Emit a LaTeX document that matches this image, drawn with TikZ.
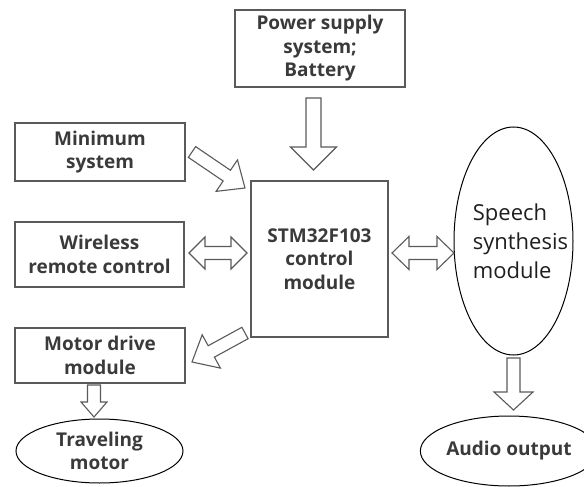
\documentclass[tikz,border=0pt]{standalone}
\usepackage{fontspec}
\setmainfont{Open Sans}
\usetikzlibrary{calc,shapes.geometric}
\definecolor{boxline}{HTML}{5A5A5A}
\definecolor{lbl}{HTML}{3A3A3A}
\newcommand{\blkarrow}[5]{% from, to, shaft half width, head half width, head length
  \path ($(#2)!#5!(#1)$) coordinate (ba-h);
  \draw[blockarrow] ($(#1)!#3!90:(#2)$) -- ($(ba-h)!#3!-90:(#1)$) -- ($(ba-h)!#4!-90:(#1)$) -- (#2)
    -- ($(ba-h)!#4!90:(#1)$) -- ($(ba-h)!#3!90:(#1)$) -- ($(#1)!#3!-90:(#2)$) -- cycle;
}
\newcommand{\dblarrow}[5]{% end A, end B, shaft half width, head half width, head length
  \path ($(#1)!#5!(#2)$) coordinate (da-a) ($(#2)!#5!(#1)$) coordinate (da-b);
  \draw[blockarrow] (#1) -- ($(da-a)!#4!90:(#2)$) -- ($(da-a)!#3!90:(#2)$) -- ($(da-b)!#3!-90:(#1)$)
    -- ($(da-b)!#4!-90:(#1)$) -- (#2) -- ($(da-b)!#4!90:(#1)$) -- ($(da-b)!#3!90:(#1)$)
    -- ($(da-a)!#3!-90:(#2)$) -- ($(da-a)!#4!-90:(#2)$) -- cycle;
}
\begin{document}
\begin{tikzpicture}[x=1pt,y=-1pt,
  box/.style={draw=boxline,line width=1.3pt,rectangle,inner sep=0pt,align=center,
    text=lbl,font=\fontsize{19}{23.5}\selectfont\bfseries},
  oval/.style={draw=black,line width=1pt,ellipse,inner sep=0pt,align=center,
    text=lbl,font=\fontsize{19}{23.5}\selectfont\bfseries},
  blockarrow/.style={draw=boxline,line width=1.1pt,fill=white,line join=miter}]
\useasboundingbox (0,0) rectangle (584,487);
% nodes
\node[box,minimum width=170pt,minimum height=77pt] (pwr) at (320,48.5) {Power supply\\system;\\Battery};
\node[box,minimum width=170pt,minimum height=58pt] (min) at (100,152) {Minimum\\system};
\node[box,minimum width=169pt,minimum height=65pt] (wrl) at (99.5,254.5) {Wireless\\remote control};
\node[box,minimum width=170pt,minimum height=55pt] (mot) at (100,355.5) {Motor drive\\module};
\node[box,minimum width=137pt,minimum height=156pt] (stm) at (319.5,259) {STM32F103\\control\\module};
\node[draw=black,line width=1pt,ellipse,inner sep=0pt,minimum width=119pt,minimum height=228pt] (sp) at (513.5,241) {};
\node[align=left,font=\fontsize{22}{29}\selectfont,text=black!88,inner sep=0pt] (sptxt) at (520.5,241) {Speech\\synthesis\\module};
\node[oval,minimum width=167pt,minimum height=64pt] (trav) at (99.5,451) {Traveling\\motor};
\node[oval,minimum width=146pt,minimum height=70pt] (aud) at (509,451) {Audio output};
% arrow end points
\coordinate (pwr-s) at (313.5,98);  \coordinate (stm-n) at (313.5,170);
\coordinate (min-s) at (192,152);   \coordinate (stm-nw) at (245,188);
\coordinate (wrl-e) at (189,253);   \coordinate (stm-w) at (247,253);
\coordinate (stm-e) at (392,253);   \coordinate (sp-w) at (454,253);
\coordinate (stm-sw) at (245,333);  \coordinate (mot-e) at (192,362);
\coordinate (mot-s) at (94,385);    \coordinate (trav-n) at (94,417);
\coordinate (sp-s) at (513.5,358);  \coordinate (aud-n) at (513.5,410);
% connectors
\blkarrow{pwr-s}{stm-n}{7.5pt}{23pt}{23pt}
\blkarrow{min-s}{stm-nw}{6.5pt}{19pt}{22pt}
\dblarrow{wrl-e}{stm-w}{6.5pt}{16pt}{16pt}
\dblarrow{stm-e}{sp-w}{6.5pt}{16.5pt}{17pt}
\blkarrow{stm-sw}{mot-e}{6.5pt}{19pt}{22pt}
\blkarrow{mot-s}{trav-n}{6.5pt}{13pt}{15pt}
\blkarrow{sp-s}{aud-n}{6.5pt}{19.5pt}{18pt}
\end{tikzpicture}
\end{document}
